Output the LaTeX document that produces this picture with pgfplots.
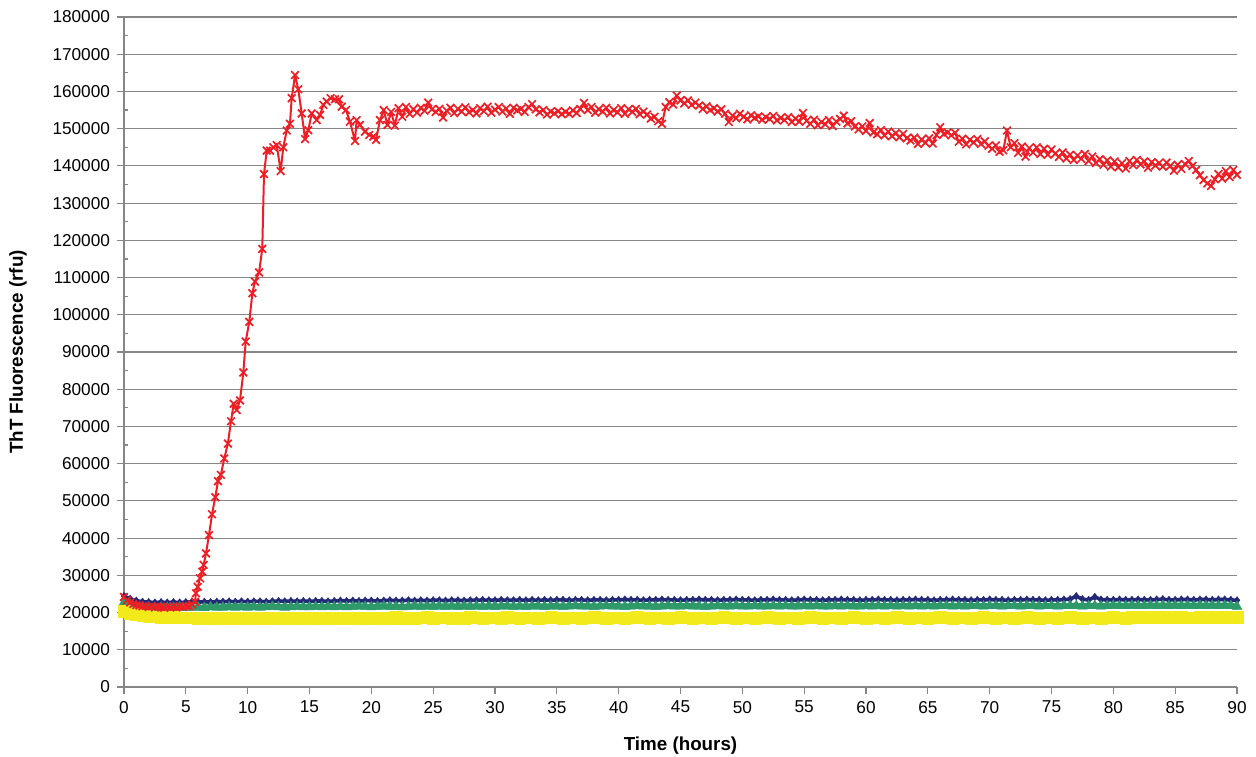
\documentclass[border=0pt]{standalone}
\usepackage{pgfplots}
\usepackage{pgfplotstable}
\pgfplotsset{compat=1.18}
\usepackage{fontspec}
\setmainfont{Liberation Sans}
\definecolor{cred}{RGB}{237,30,36}
\definecolor{cnavy}{RGB}{35,40,120}
\definecolor{cgreen}{RGB}{46,154,106}
\definecolor{cyellow}{RGB}{242,234,26}
\definecolor{cgrid}{RGB}{134,134,134}

\pgfplotstableread{
t y
0 24200
0.25 23300
0.5 22700
0.75 22300
1.0 22000
1.25 21900
1.5 21700
1.75 21800
2.0 21500
2.25 21700
2.5 21400
2.75 21600
3.0 21500
3.25 21300
3.5 21600
3.75 21400
4.0 21700
4.25 21400
4.5 21600
4.75 21500
5.0 21800
5.25 21700
5.5 22200
5.74 22900
5.82 25200
5.96 26900
6.15 29200
6.33 31000
6.44 32800
6.63 35900
6.87 40800
7.12 46400
7.38 51000
7.6 55300
7.83 57000
8.11 61400
8.4 65400
8.65 71400
8.87 76100
9.11 74400
9.38 77000
9.65 84500
9.84 92800
10.13 98100
10.38 105800
10.59 108900
10.92 111400
11.18 117700
11.32 137800
11.54 144100
11.81 144100
12.07 145000
12.35 145600
12.67 138600
12.88 145000
13.16 149500
13.42 151300
13.56 158200
13.83 164400
14.09 160600
14.37 154100
14.64 147200
14.9 149600
15.18 154100
15.58 152300
15.85 153700
16.12 156400
16.39 157300
16.71 158200
17.06 157900
17.39 157900
17.6 155900
17.95 155000
18.27 151900
18.68 146700
18.81 152300
19.08 151000
19.49 149200
19.83 148300
20.16 147900
20.38 147000
20.7 152300
21.0 155000
21.3 151000
21.6 154500
21.9 150800
22.2 155500
22.5 153200
22.8 155800
23.1 154000
23.4 155200
23.7 154300
24.0 155600
24.3 154800
24.6 157000
24.9 155200
25.2 154500
25.5 155300
25.8 153000
26.1 154800
26.4 155600
26.7 154200
27.0 155300
27.3 154600
27.6 155700
27.9 154400
28.2 155000
28.5 154100
28.8 155500
29.1 154700
29.4 155900
29.7 154300
30.0 155100
30.3 155800
30.6 154600
30.9 155400
31.2 154000
31.5 155600
31.8 154900
32.1 155300
32.4 154500
32.7 155800
33.0 156600
33.3 155200
33.6 154400
33.9 155000
34.2 153800
34.5 154600
34.8 154100
35.1 154700
35.4 153900
35.7 154500
36.0 154000
36.3 154900
36.6 154200
36.9 155300
37.2 156900
37.5 155000
37.8 155800
38.1 154300
38.4 155200
38.7 154600
39.0 155600
39.3 154100
39.6 155000
39.9 154400
40.2 155500
40.5 154000
40.8 155200
41.1 154500
41.4 155300
41.7 153900
42.0 154600
42.3 153800
42.6 152700
42.9 153200
43.2 152000
43.5 151300
43.8 155800
44.1 157100
44.4 156500
44.7 158900
45.0 157600
45.3 156800
45.6 157600
45.9 156400
46.2 157000
46.5 156200
46.8 155300
47.1 156000
47.4 155000
47.7 155500
48.0 154600
48.3 155200
48.6 154000
48.9 151800
49.2 153500
49.5 152800
49.8 154000
50.1 153200
50.4 152500
50.7 153600
51.0 152900
51.3 153300
51.6 152400
51.9 153100
52.2 152600
52.5 153400
52.8 152200
53.1 152900
53.4 152300
53.7 153100
54.0 151800
54.3 152700
54.6 151900
54.9 154200
55.2 152100
55.5 151300
55.8 152400
56.1 150900
56.4 151800
56.7 151200
57.0 152300
57.3 150700
57.6 151900
57.9 152600
58.2 153500
58.5 151400
58.8 152000
59.1 150600
59.4 149800
59.7 150600
60.0 149400
60.3 151500
60.6 149000
60.9 148500
61.2 149600
61.5 148200
61.8 149200
62.1 148000
62.4 148800
62.7 147700
63.0 148600
63.3 147400
63.6 146800
63.9 147600
64.2 145900
64.5 147100
64.8 146200
65.1 147400
65.4 146000
65.7 148300
66.0 150400
66.3 148600
66.6 149000
66.9 148200
67.2 148900
67.5 146500
67.8 147300
68.1 145800
68.4 147000
68.7 146300
69.0 147200
69.3 145900
69.6 146600
69.9 145400
70.2 144600
70.5 145500
70.8 143800
71.1 144200
71.4 149500
71.7 145000
72.0 146100
72.3 143500
72.6 145200
72.9 142500
73.2 144800
73.5 143600
73.8 145000
74.1 143200
74.4 144600
74.7 143000
75.0 144400
75.3 143300
75.6 142400
75.9 143600
76.2 142000
76.5 143000
76.8 141600
77.1 142800
77.4 141900
77.7 143200
78.0 141300
78.3 142500
78.6 140800
78.9 141800
79.2 140300
79.5 141500
79.8 139800
80.1 141200
80.4 139600
80.7 140700
81.0 139300
81.3 141300
81.6 140200
81.9 141600
82.2 140400
82.5 141200
82.8 139500
83.1 141000
83.4 140100
83.7 140800
84.0 139800
84.3 140900
84.6 140000
84.9 138700
85.2 140300
85.5 139200
85.8 140500
86.1 141300
86.4 140000
86.7 138900
87.0 137500
87.3 136200
87.6 135300
87.9 134600
88.2 136400
88.5 137800
88.8 136600
89.1 138600
89.4 137000
89.7 138900
90.0 137600
}\reddata

\pgfplotstableread{
t n g y
0 24400 22700 20400
0.5 23700 22100 19900
1 23200 21700 19500
1.5 22900 21500 19200
2 22800 21400 19000
2.5 22700 21300 18900
3 22800 21400 18800
3.5 22700 21300 18700
4 22800 21300 18700
4.5 22700 21400 18600
5 22800 21300 18600
5.5 22900 21400 18600
6 22800 21400 18500
6.5 22900 21300 18600
7 22800 21500 18500
7.5 22900 21400 18600
8 22900 21400 18500
8.5 23000 21500 18500
9 22900 21400 18600
9.5 23000 21500 18400
10 22900 21400 18500
10.5 23000 21500 18600
11 23000 21400 18500
11.5 22900 21500 18500
12 23000 21600 18600
12.5 23100 21500 18400
13 23000 21400 18500
13.5 23100 21500 18600
14 23000 21600 18500
14.5 23100 21500 18500
15 23000 21500 18600
15.5 23100 21600 18500
16 23100 21500 18400
16.5 23000 21600 18600
17 23100 21500 18500
17.5 23200 21600 18500
18 23100 21500 18600
18.5 23200 21600 18500
19 23100 21700 18600
19.5 23200 21600 18500
20 23200 21500 18600
20.5 23100 21600 18500
21 23200 21700 18600
21.5 23300 21600 18500
22 23200 21600 18700
22.5 23200 21500 18500
23 23300 21600 18600
23.5 23200 21700 18500
24 23300 21600 18600
24.5 23200 21700 18700
25 23300 21600 18500
25.5 23300 21700 18600
26 23200 21600 18600
26.5 23300 21700 18500
27 23300 21600 18600
27.5 23200 21700 18500
28 23300 21600 18700
28.5 23300 21700 18600
29 23400 21600 18500
29.5 23300 21700 18600
30 23300 21600 18600
30.5 23400 21700 18500
31 23300 21700 18700
31.5 23300 21600 18600
32 23400 21700 18500
32.5 23300 21600 18600
33 23400 21700 18600
33.5 23300 21700 18500
34 23400 21600 18600
34.5 23300 21700 18700
35 23400 21700 18600
35.5 23400 21600 18500
36 23300 21700 18600
36.5 23400 21800 18600
37 23400 21700 18500
37.5 23300 21700 18600
38 23400 21600 18700
38.5 23400 21700 18600
39 23300 21800 18500
39.5 23400 21700 18600
40 23400 21700 18600
40.5 23500 21600 18500
41 23400 21700 18600
41.5 23400 21800 18700
42 23300 21700 18600
42.5 23400 21700 18500
43 23400 21600 18600
43.5 23500 21700 18600
44 23400 21800 18500
44.5 23400 21700 18600
45 23300 21700 18700
45.5 23400 21800 18600
46 23400 21700 18500
46.5 23500 21700 18600
47 23400 21600 18600
47.5 23400 21700 18500
48 23300 21800 18600
48.5 23400 21700 18700
49 23400 21700 18600
49.5 23500 21800 18500
50 23400 21700 18600
50.5 23400 21700 18600
51 23300 21800 18500
51.5 23400 21700 18600
52 23400 21700 18700
52.5 23500 21800 18600
53 23400 21700 18500
53.5 23400 21800 18600
54 23300 21700 18600
54.5 23400 21700 18500
55 23500 21800 18600
55.5 23400 21700 18700
56 23400 21800 18600
56.5 23300 21700 18500
57 23400 21700 18600
57.5 23400 21800 18600
58 23500 21700 18500
58.5 23400 21800 18600
59 23400 21700 18700
59.5 23300 21700 18600
60 23400 21800 18500
60.5 23400 21700 18600
61 23500 21800 18600
61.5 23400 21700 18500
62 23400 21800 18600
62.5 23300 21700 18700
63 23400 21800 18600
63.5 23400 21700 18500
64 23500 21800 18600
64.5 23400 21700 18600
65 23400 21800 18500
65.5 23300 21700 18600
66 23400 21800 18700
66.5 23400 21800 18600
67 23500 21700 18500
67.5 23400 21800 18600
68 23400 21700 18600
68.5 23300 21800 18500
69 23400 21800 18600
69.5 23400 21700 18700
70 23500 21800 18600
70.5 23400 21800 18500
71 23400 21700 18600
71.5 23300 21800 18600
72 23400 21800 18500
72.5 23400 21700 18600
73 23500 21800 18700
73.5 23400 21800 18600
74 23400 21700 18500
74.5 23300 21800 18600
75 23400 21800 18600
75.5 23400 21700 18500
76 23500 21800 18600
76.5 23600 21800 18700
77 24400 21800 18600
77.5 23600 21700 18500
78 23400 21800 18600
78.5 24200 21800 18600
79 23500 21700 18500
79.5 23400 21800 18600
80 23400 21900 18700
80.5 23500 21800 18600
81 23400 21800 18500
81.5 23400 21900 18700
82 23500 21800 18600
82.5 23400 21800 18700
83 23400 21900 18600
83.5 23500 21800 18700
84 23600 21900 18600
84.5 23400 21800 18700
85 23400 21900 18600
85.5 23500 21800 18700
86 23500 21900 18600
86.5 23400 21800 18600
87 23500 21900 18700
87.5 23500 21800 18600
88 23400 21900 18700
88.5 23500 21800 18600
89 23500 21900 18700
89.5 23400 21800 18600
90 23300 21600 18700
}\bottomdata

\begin{document}
\begin{tikzpicture}
\begin{axis}[
  scale only axis,
  width=556.5pt, height=335pt,
  xmin=0, xmax=90, ymin=0, ymax=180000,
  axis x line*=bottom, axis y line*=left,
  axis line style={-, cgrid, line width=0.6pt},
  xtick={0,5,...,90},
  ytick={0,10000,...,180000},
  scaled y ticks=false,
  /pgf/number format/assume math mode=true,
  yticklabel style={/pgf/number format/fixed, /pgf/number format/precision=0, /pgf/number format/1000 sep={}},
  tick label style={font=\fontsize{8.6}{10}\selectfont, text=black},
  tick align=outside,
  major tick length=3.5pt,
  tick style={cgrid, line width=0.6pt},
  ymajorgrids,
  grid style={cgrid, line width=0.6pt},
  extra y ticks={5000,15000,...,175000},
  extra y tick labels={},
  extra y tick style={tick align=inside, major tick length=2pt, grid=none},
  xlabel={Time (hours)},
  ylabel={ThT Fluorescence (rfu)},
  xlabel style={at={(axis description cs:0.5,-0.0881)}, anchor=center, font=\fontsize{9.4}{11}\selectfont\bfseries},
  ylabel style={at={(axis description cs:-0.0952,0.5)}, anchor=center, font=\fontsize{9.4}{11}\selectfont\bfseries},
  clip=false,
]
\addplot[cnavy, line width=1.8pt, line join=round, mark=diamond*, mark size=1.9pt, mark options={line width=0.2pt}] table[x=t, y=n] {\bottomdata};
\addplot[cgreen, line width=3pt, line join=round, mark=triangle*, mark size=2.9pt, mark options={line width=0.2pt}] table[x=t, y=g] {\bottomdata};
\addplot[cyellow, line width=3.2pt, line join=round, mark=square*, mark size=2.9pt, mark options={line width=0.2pt}] table[x=t, y=y] {\bottomdata};
\addplot[cred, line width=1pt, line join=round, mark=x, mark size=2.7pt, mark options={line width=0.85pt}] table[x=t, y=y] {\reddata};
\end{axis}
\pgfresetboundingbox
\path[use as bounding box] (-62pt,-34.5pt) rectangle (566pt,343.5pt);
\end{tikzpicture}
\end{document}
